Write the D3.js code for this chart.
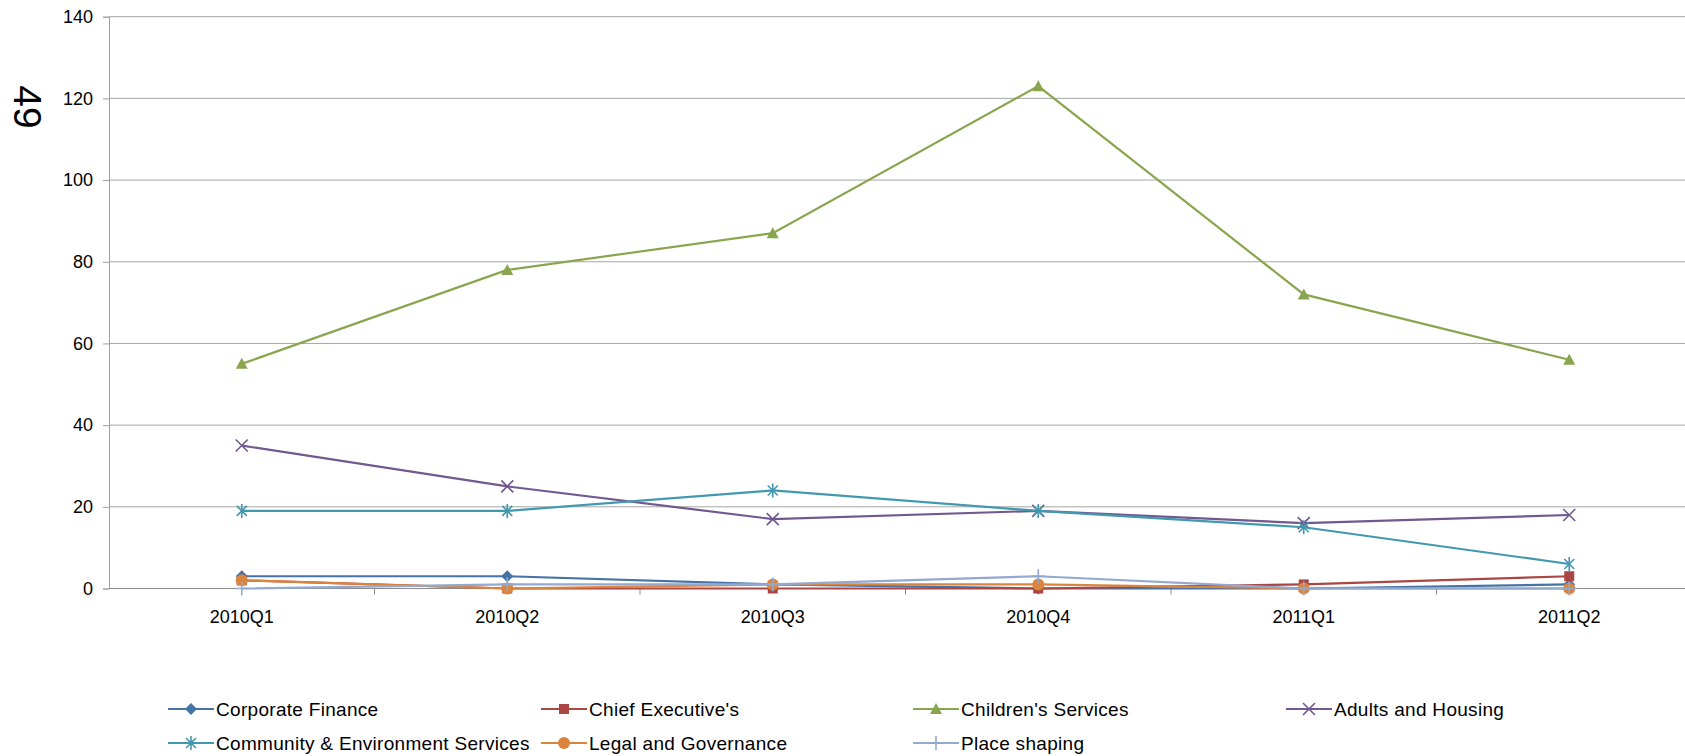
<!DOCTYPE html>
<html>
<head>
<meta charset="utf-8">
<script src="https://cdn.jsdelivr.net/npm/d3@7/dist/d3.min.js"></script>
<style>
  html, body { margin: 0; padding: 0; background: #fff; }
  svg { display: block; }
  text { font-family: "Liberation Sans", Arial, sans-serif; fill: #000; }
</style>
</head>
<body>
<svg id="chart" width="1685" height="756"></svg>
<script>
// Quarterly figures per service area
const quarters = ["2010Q1", "2010Q2", "2010Q3", "2010Q4", "2011Q1", "2011Q2"];
const seriesNames = [
  "Corporate Finance", "Chief Executive's", "Children's Services", "Adults and Housing",
  "Community & Environment Services", "Legal and Governance", "Place shaping"
];
const corporateFinance = [3, 3, 1, 0, 0, 1];
const chiefExecutives = [2, 0, 0, 0, 1, 3];
const childrensServices = [55, 78, 87, 123, 72, 56];
const adultsHousing = [35, 25, 17, 19, 16, 18];
const communityEnvironment = [19, 19, 24, 19, 15, 6];
const legalGovernance = [2, 0, 1, 1, 0, 0];
const placeShaping = [0, 1, 1, 3, 0, 0];
const yTicks = [0, 20, 40, 60, 80, 100, 120, 140];
const sideLabel = "49";

const seriesValues = [corporateFinance, chiefExecutives, childrensServices, adultsHousing,
  communityEnvironment, legalGovernance, placeShaping];
const colors = ["#4572A7", "#AA4643", "#89A54E", "#71588F", "#4198AF", "#DB843D", "#93A9CF"];
const markers = ["diamond", "square", "triangle", "cross", "star", "circle", "plus"];

const svg = d3.select("#chart");
const plot = { left: 109, right: 1702, top: 16.7, bottom: 588.5 };

const x = d3.scaleBand().domain(quarters).range([plot.left, plot.right]);
const y = d3.scaleLinear().domain([0, 140]).range([plot.bottom, plot.top]);

// horizontal gridlines
svg.append("g").selectAll("line").data(yTicks.filter(d => d > 0)).join("line")
  .attr("x1", plot.left).attr("x2", plot.right)
  .attr("y1", d => y(d)).attr("y2", d => y(d))
  .attr("stroke", "#a6a6a6").attr("stroke-width", 1);

// y axis
const yAxis = svg.append("g").attr("transform", `translate(${plot.left},0)`)
  .call(d3.axisLeft(y).tickValues(yTicks).tickSize(6).tickPadding(10).tickFormat(d3.format("d")));
yAxis.select(".domain").attr("stroke", "#a0a0a0");
yAxis.selectAll(".tick line").attr("stroke", "#a0a0a0");
yAxis.selectAll("text").attr("font-size", 18).attr("font-family", "Liberation Sans, Arial, sans-serif");

// x axis
const xAxis = svg.append("g").attr("transform", `translate(0,${plot.bottom})`)
  .call(d3.axisBottom(x).tickSize(0).tickPadding(22));
xAxis.select(".domain").attr("stroke", "#8c8c8c").attr("d", `M${plot.left},0H${plot.right}`);
xAxis.selectAll("text").attr("font-size", 18).attr("font-family", "Liberation Sans, Arial, sans-serif");
// category boundary ticks
svg.append("g").selectAll("line").data(quarters.slice(1)).join("line")
  .attr("x1", d => x(d)).attr("x2", d => x(d))
  .attr("y1", plot.bottom).attr("y2", plot.bottom + 6)
  .attr("stroke", "#8c8c8c");

// rotated side label
svg.append("text")
  .attr("transform", "translate(14,107) rotate(90)")
  .attr("text-anchor", "middle")
  .attr("font-size", 39)
  .text(sideLabel);

function drawMarker(g, type, color) {
  const s = 6;
  switch (type) {
    case "diamond":
      g.append("path").attr("d", `M0,${-s}L${s},0L0,${s}L${-s},0Z`).attr("fill", color); break;
    case "square":
      g.append("rect").attr("x", -5).attr("y", -5).attr("width", 10).attr("height", 10).attr("fill", color); break;
    case "triangle":
      g.append("path").attr("d", `M0,-6L6,5L-6,5Z`).attr("fill", color); break;
    case "cross":
      g.append("path").attr("d", `M-6,-6L6,6M-6,6L6,-6`).attr("stroke", color).attr("stroke-width", 1.6); break;
    case "star":
      g.append("path").attr("d", `M-5,-5L5,5M-5,5L5,-5M0,-7L0,7`).attr("stroke", color).attr("stroke-width", 1.6); break;
    case "circle":
      g.append("circle").attr("r", 6).attr("fill", color); break;
    case "plus":
      g.append("path").attr("d", `M-7,0L7,0M0,-7L0,7`).attr("stroke", color).attr("stroke-width", 1.6); break;
  }
}

const line = d3.line()
  .x((d, i) => x(quarters[i]) + x.bandwidth() / 2)
  .y(d => y(d));

seriesValues.forEach((vals, si) => {
  const g = svg.append("g");
  g.append("path").datum(vals).attr("d", line)
    .attr("fill", "none").attr("stroke", colors[si]).attr("stroke-width", 2.2);
  vals.forEach((v, i) => {
    const m = g.append("g")
      .attr("transform", `translate(${x(quarters[i]) + x.bandwidth() / 2},${y(v)})`);
    drawMarker(m, markers[si], colors[si]);
  });
});

// legend
const legendCols = [168, 541, 913, 1286];
const legendRows = [709, 743];
seriesNames.forEach((name, i) => {
  const col = i % 4, row = Math.floor(i / 4);
  const g = svg.append("g").attr("transform", `translate(${legendCols[col]},${legendRows[row]})`);
  g.append("line").attr("x1", 0).attr("x2", 46).attr("y1", 0).attr("y2", 0)
    .attr("stroke", colors[i]).attr("stroke-width", 2.2);
  drawMarker(g.append("g").attr("transform", "translate(23,0)"), markers[i], colors[i]);
  g.append("text").attr("x", 48).attr("y", 7).attr("font-size", 19)
    .attr("letter-spacing", "0.3").text(name);
});
</script>
</body>
</html>
